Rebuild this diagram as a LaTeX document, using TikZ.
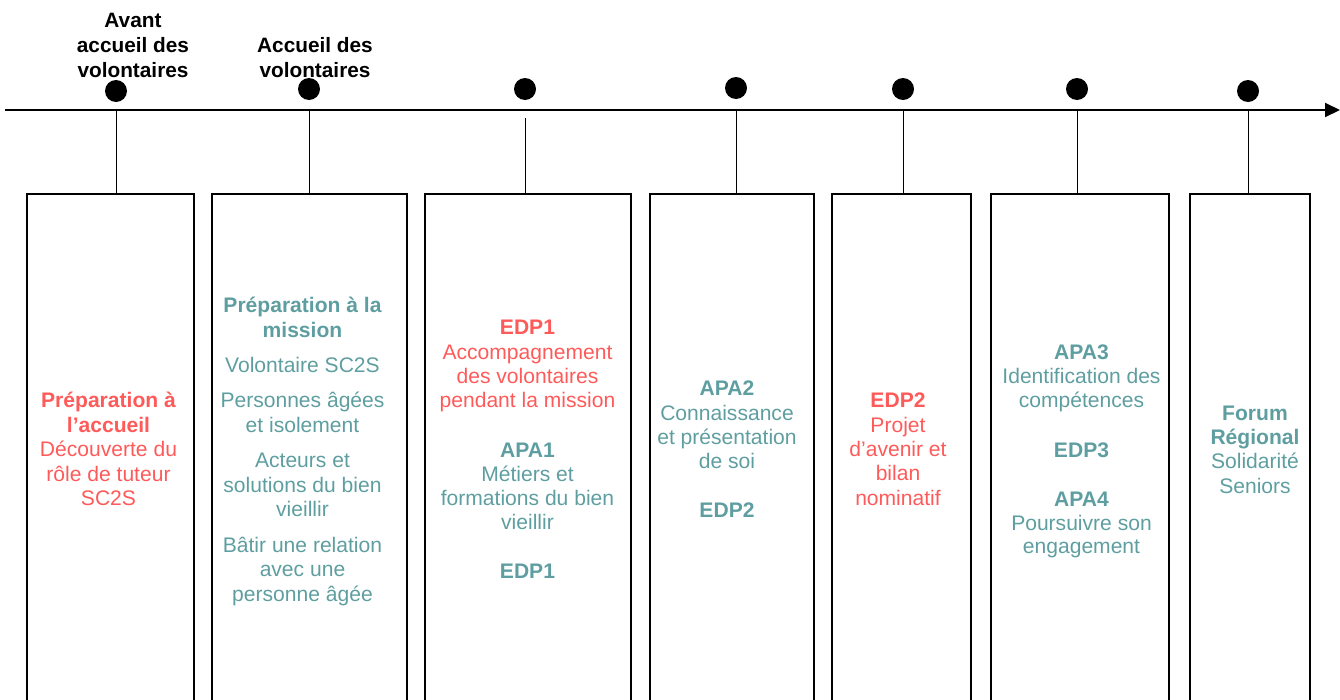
\documentclass[tikz,border=0pt]{standalone}
\usepackage{fontspec}
\setmainfont{Liberation Sans}
\usetikzlibrary{arrows.meta}
\definecolor{salmonred}{HTML}{FF5A5A}
\definecolor{tealc}{HTML}{5F9EA0}
\begin{document}
\begin{tikzpicture}[x=0.75pt,y=-0.75pt,
  txt/.style={anchor=base,inner sep=0pt,font=\fontsize{15.8}{18.4}\selectfont},
  kb/.style={txt,font=\fontsize{15.6}{18.4}\selectfont\bfseries,text=black},
  rb/.style={txt,font=\fontsize{15.8}{18.4}\selectfont\bfseries,text=salmonred},
  rt/.style={txt,text=salmonred},
  tb/.style={txt,font=\fontsize{15.8}{18.4}\selectfont\bfseries,text=tealc},
  tt/.style={txt,text=tealc},
  stagebox/.style={draw,line width=1.5pt,anchor=north,inner sep=0pt,minimum height={527*0.75pt}},
  dot/.style={circle,fill=black,inner sep=0pt,minimum size={22*0.75pt}},
  link/.style={line width=0.75pt}]
\useasboundingbox (0,0) rectangle (1340,700);
\clip (0,0) rectangle (1340,700);
% timeline
\coordinate (tstart) at (5,110);
\coordinate (tend) at (1340,110);
\draw[line width=1.5pt,-{Triangle[length=11.25pt,width=10.5pt]}] (tstart) -- (tend);
% dots
\node[dot] (d1) at (116,91) {};
\node[dot] (d2) at (309,89) {};
\node[dot] (d3) at (525,89) {};
\node[dot] (d4) at (736,88) {};
\node[dot] (d5) at (903,89) {};
\node[dot] (d6) at (1077,89) {};
\node[dot] (d7) at (1248,91) {};
% boxes
\node[stagebox,minimum width={167*0.75pt}] (b1) at (110.5,193) {};
\node[stagebox,minimum width={195*0.75pt}] (b2) at (309.5,193) {};
\node[stagebox,minimum width={206*0.75pt}] (b3) at (528,193) {};
\node[stagebox,minimum width={164*0.75pt}] (b4) at (732,193) {};
\node[stagebox,minimum width={139*0.75pt}] (b5) at (901.5,193) {};
\node[stagebox,minimum width={178*0.75pt}] (b6) at (1080,193) {};
\node[stagebox,minimum width={120*0.75pt}] (b7) at (1250,193) {};
% connectors
\draw[link] (d1 |- tstart) -- (d1 |- b1.north);
\draw[link] (d2 |- tstart) -- (d2 |- b2.north);
\draw[link] ([yshift=-8*0.75pt]d3 |- tstart) -- (d3 |- b3.north);
\draw[link] (d4 |- tstart) -- (d4 |- b4.north);
\draw[link] (d5 |- tstart) -- (d5 |- b5.north);
\draw[link] (d6 |- tstart) -- (d6 |- b6.north);
\draw[link] (d7 |- tstart) -- (d7 |- b7.north);
% top labels
\node[kb] (h1a) at (133,27) {Avant};
\node[kb] (h1b) at (133,52) {accueil des};
\node[kb] (h1c) at (133,77) {volontaires};
\node[kb] (h2a) at (315,52) {Accueil des};
\node[kb] (h2b) at (315,77) {volontaires};
% box 1
\node[rb] (t1a) at (108.5,407) {Préparation à};
\node[rb] (t1b) at (108.5,432) {l’accueil};
\node[rt] (t1c) at (108.5,456) {Découverte du};
\node[rt] (t1d) at (108.5,481) {rôle de tuteur};
\node[rt] (t1e) at (108.5,505) {SC2S};
% box 2
\node[tb] (t2a) at (302.5,312) {Préparation à la};
\node[tb] (t2b) at (302.5,337) {mission};
\node[tt] (t2c) at (302.5,372) {Volontaire SC2S};
\node[tt] (t2d) at (302.5,407) {Personnes âgées};
\node[tt] (t2e) at (302.5,432) {et isolement};
\node[tt] (t2f) at (302.5,467) {Acteurs et};
\node[tt] (t2g) at (302.5,492) {solutions du bien};
\node[tt] (t2h) at (302.5,516) {vieillir};
\node[tt] (t2i) at (302.5,552) {Bâtir une relation};
\node[tt] (t2j) at (302.5,576) {avec une};
\node[tt] (t2k) at (302.5,601) {personne âgée};
% box 3
\node[rb] (t3a) at (527.5,334) {EDP1};
\node[rt] (t3b) at (527.5,359) {Accompagnement};
\node[rt] (t3c) at (527.5,383) {des volontaires};
\node[rt] (t3d) at (527.5,407) {pendant la mission};
\node[tb] (t3e) at (527.5,457) {APA1};
\node[tt] (t3f) at (527.5,481) {Métiers et};
\node[tt] (t3g) at (527.5,505) {formations du bien};
\node[tt] (t3h) at (527.5,529) {vieillir};
\node[tb] (t3i) at (527.5,578) {EDP1};
% box 4
\node[tb] (t4a) at (727,395) {APA2};
\node[tt] (t4b) at (727,420) {Connaissance};
\node[tt] (t4c) at (727,444) {et présentation};
\node[tt] (t4d) at (727,468) {de soi};
\node[tb] (t4e) at (727,517) {EDP2};
% box 5
\node[rb] (t5a) at (898,407) {EDP2};
\node[rt] (t5b) at (898,432) {Projet};
\node[rt] (t5c) at (898,456) {d’avenir et};
\node[rt] (t5d) at (898,480) {bilan};
\node[rt] (t5e) at (898,505) {nominatif};
% box 6
\node[tb] (t6a) at (1081.5,359) {APA3};
\node[tt] (t6b) at (1081.5,383) {Identification des};
\node[tt] (t6c) at (1081.5,407) {compétences};
\node[tb] (t6d) at (1081.5,457) {EDP3};
\node[tb] (t6e) at (1081.5,506) {APA4};
\node[tt] (t6f) at (1081.5,530) {Poursuivre son};
\node[tt] (t6g) at (1081.5,553) {engagement};
% box 7
\node[tb] (t7a) at (1255,420) {Forum};
\node[tb] (t7b) at (1255,444) {Régional};
\node[tt] (t7c) at (1255,468) {Solidarité};
\node[tt] (t7d) at (1255,493) {Seniors};
\end{tikzpicture}
\end{document}
